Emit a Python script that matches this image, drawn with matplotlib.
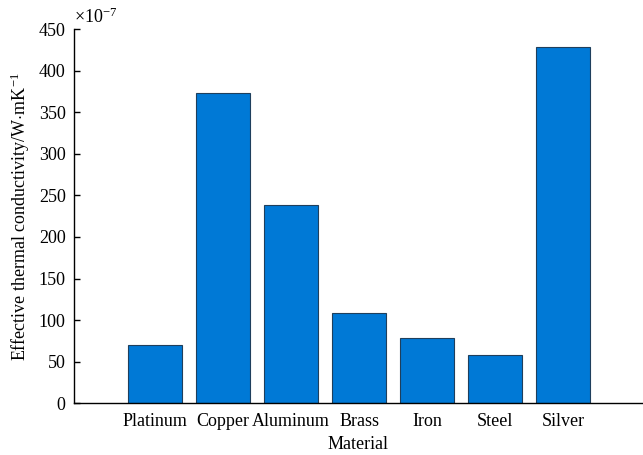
import numpy as np
import matplotlib
matplotlib.use('Agg')
from matplotlib import pyplot as plt

materials = ['Platinum', 'Copper', 'Aluminum', 'Brass', 'Iron', 'Steel', 'Silver']
conductivity = [70, 373, 238, 109, 79, 58, 428]
y_ticks = [0, 50, 100, 150, 200, 250, 300, 350, 400, 450]

plt.rcParams['font.family'] = ['Liberation Serif', 'DejaVu Serif']
plt.rcParams['mathtext.fontset'] = 'custom'
plt.rcParams['mathtext.rm'] = 'Liberation Serif'
plt.rcParams['mathtext.it'] = 'Liberation Serif:italic'

fig = plt.figure(figsize=(6.43, 4.55), dpi=100)
ax = fig.add_axes([74 / 643, 1 - 403.3 / 455, 568 / 643, 374.3 / 455])

x = np.arange(len(materials))
ax.bar(x, conductivity, width=0.8, color='#0079d6', edgecolor='#1f3f5c', linewidth=0.8)

ax.set_xlim(-1.19, 7.16)
ax.set_ylim(0, 450)
ax.set_yticks(y_ticks)
ax.set_xticks(x)
ax.set_xticklabels(materials)

ax.spines['top'].set_visible(False)
ax.spines['right'].set_visible(False)
ax.spines['left'].set_linewidth(1.0)
ax.spines['bottom'].set_linewidth(1.0)

ax.tick_params(axis='y', direction='in', length=4, width=1, labelsize=13, pad=6)
ax.tick_params(axis='x', length=0, labelsize=13, pad=7)

ax.set_xlabel('Material', fontsize=13, labelpad=4)
ax.set_ylabel(r'Effective thermal conductivity/W$\cdot$mK$^{-1}$', fontsize=13, labelpad=5)

ax.text(0.0, 1.005, r'$\times$10$^{-7}$', transform=ax.transAxes, fontsize=13,
        ha='left', va='bottom')

fig.savefig('out.png', dpi=100)
